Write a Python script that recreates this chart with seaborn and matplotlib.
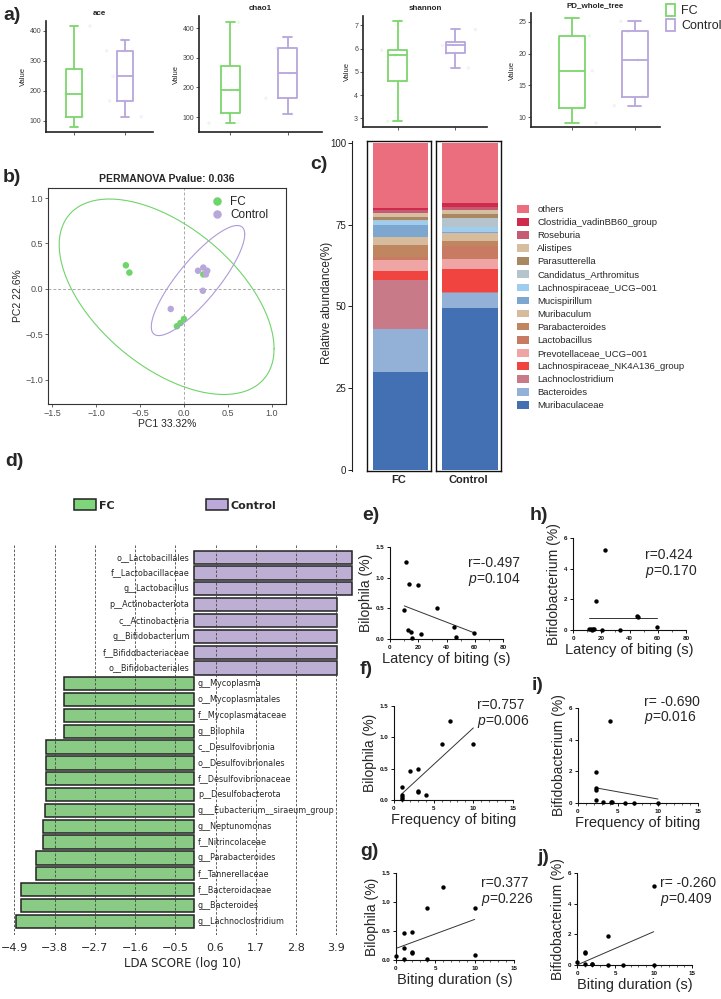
import numpy as np
import pandas as pd
import matplotlib
matplotlib.use('Agg')
import matplotlib.pyplot as plt
from matplotlib.patches import Patch
from matplotlib.ticker import MultipleLocator
import seaborn as sns

sns.set_style('white')
plt.rcParams['font.family'] = ['Liberation Sans', 'DejaVu Sans']
plt.rcParams['mathtext.fontset'] = 'custom'
plt.rcParams['mathtext.it'] = 'Liberation Sans:italic'
plt.rcParams['mathtext.rm'] = 'Liberation Sans'

W, H = 721, 999
GREEN = '#7bd66c'
PURPLE = '#b7a6dd'
GREEN_D = '#7fd67a'
PURPLE_D = '#bba9d9'

# ---------------- data ----------------
# a) alpha diversity: min, q1, median, q3, max
alpha_names = ['ace', 'chao1', 'shannon', 'PD_whole_tree']
ace_fc = [80, 114, 190, 272, 415]
ace_ctrl = [114, 166, 248, 333, 369]
chao1_fc = [80, 113, 192, 272, 420]
chao1_ctrl = [111, 164, 248, 333, 370]
shannon_fc = [2.88, 4.6, 5.71, 5.93, 7.2]
shannon_ctrl = [5.17, 5.79, 6.14, 6.27, 6.82]
pdtree_fc = [9.1, 11.4, 17.3, 22.8, 25.6]
pdtree_ctrl = [11.8, 13.25, 19.0, 23.5, 25.1]

# b) PCoA
pc_fc_x = [-0.66, -0.62, 0.22, -0.08, -0.04, 0.00]
pc_fc_y = [0.26, 0.18, 0.16, -0.41, -0.375, -0.33]
pc_ctrl_x = [0.16, 0.22, 0.265, 0.25, 0.215, -0.15]
pc_ctrl_y = [0.20, 0.235, 0.20, 0.16, -0.02, -0.22]
F_95 = 5.786  # F quantile (0.95; 2, 5) used by stat_ellipse, n = 6

# c) relative abundance (bottom -> top)
genera = ['Muribaculaceae', 'Bacteroides', 'Lachnoclostridium',
          'Lachnospiraceae_NK4A136_group', 'Prevotellaceae_UCG\u2212001',
          'Lactobacillus', 'Parabacteroides', 'Muribaculum', 'Mucispirillum',
          'Lachnospiraceae_UCG\u2212001', 'Candidatus_Arthromitus',
          'Parasutterella', 'Alistipes', 'Roseburia',
          'Clostridia_vadinBB60_group', 'others']
abund_fc = [30.0, 13.1, 15.0, 2.9, 3.2, 0.8, 3.8, 2.5, 3.7, 1.0, 0.3,
            1.0, 1.2, 1.0, 0.6, 19.9]
abund_ctrl = [49.4, 4.6, 0.3, 7.1, 3.0, 4.2, 1.4, 2.4, 0.3, 1.7, 2.8,
              1.1, 1.2, 0.8, 1.2, 18.5]
genus_colors = ['#4270b2', '#93b0d6', '#c97a89', '#ef4440', '#f0a5a5',
                '#c97a62', '#bf8660', '#d6bc9c', '#7ea7cf', '#9fcdef',
                '#b4c3cc', '#a98762', '#d7bea0', '#c45b72', '#cf2a4b',
                '#eb6e7e']

# d) LEfSe
lda_taxa = ['o__Lactobacillales', 'f__Lactobacillaceae', 'g__Lactobacillus',
            'p__Actinobacteriota', 'c__Actinobacteria', 'g__Bifidobacterium',
            'f__Bifidobacteriaceae', 'o__Bifidobacteriales', 'g__Mycoplasma',
            'o__Mycoplasmatales', 'f__Mycoplasmataceae', 'g__Bilophila',
            'c__Desulfovibrionia', 'o__Desulfovibrionales',
            'f__Desulfovibrionaceae', 'p__Desulfobacterota',
            'g___Eubacterium__siraeum_group', 'g__Neptunomonas',
            'f__Nitrincolaceae', 'g__Parabacteroides', 'f__Tannerellaceae',
            'f__Bacteroidaceae', 'g__Bacteroides', 'g__Lachnoclostridium']
lda_score = [4.32, 4.32, 4.32, 3.93, 3.91, 3.91, 3.91, 3.91, -3.53, -3.53,
             -3.53, -3.55, -4.03, -4.03, -4.03, -4.03, -4.07, -4.11, -4.11,
             -4.31, -4.31, -4.72, -4.72, -4.85]

# e-j) correlations
e_x = [11.3, 13.7, 19.6, 10.1, 33.3, 12.8, 45.5, 14.6, 21.7, 15.4, 46.5, 59.7]
e_y = [1.25, 0.89, 0.88, 0.47, 0.50, 0.14, 0.20, 0.11, 0.08, 0.01, 0.03, 0.09]
e_fit = ([10.1, 59.7], [0.54, 0.10])
h_x = [22.5, 16.1, 11.1, 12.4, 13.2, 14.0, 15.2, 20.6, 33.1, 45.0, 46.1, 59.2]
h_y = [5.19, 1.92, 0.05, 0.05, 0.02, 0.05, 0.05, 0.0, 0.0, 0.94, 0.83, 0.22]
h_fit = ([11.1, 59.2], [0.80, 0.80])
f_x = [1, 1, 1, 1, 2, 3, 3, 3, 4, 6, 7, 10]
f_y = [0.20, 0.08, 0.05, 0.01, 0.47, 0.49, 0.14, 0.12, 0.08, 0.89, 1.26, 0.89]
f_fit = ([1, 10], [0.10, 1.15])
i_x = [2.2, 2.2, 2.2, 2.2, 3.1, 4.0, 4.1, 4.2, 5.9, 7.0, 10.0]
i_y = [1.93, 0.93, 0.82, 0.19, 0.08, 5.2, 0.08, 0.08, 0.02, 0.02, 0.02]
i_fit = ([2.2, 10.0], [0.96, 0.25])
g_x = [1, 2, 1, 1, 2, 2, 4, 4, 6, 10, 10, 0]
g_y = [0.47, 0.49, 0.20, 0.01, 0.14, 0.12, 0.89, 0.02, 1.26, 0.89, 0.08, 0.07]
g_fit = ([0, 10], [0.20, 0.70])
j_x = [0, 1, 1, 1, 2, 2, 4, 4, 6, 10, 10]
j_y = [0.22, 0.87, 0.80, 0.07, 0.07, 0.05, 1.91, 0.0, 0.0, 0.0, 5.15]
j_fit = ([0, 10], [0.0, 2.17])

fig = plt.figure(figsize=(W / 100, H / 100), dpi=100)


def add_ax(l, t, r, b, **kw):
    return fig.add_axes([l / W, 1 - b / H, (r - l) / W, (b - t) / H], **kw)


def label(x, y, s):
    fig.text(x / W, 1 - y / H, s, fontsize=14, fontweight='bold', va='center')


# ---------------- a) ----------------
np.random.seed(3)
a_data = [(ace_fc, ace_ctrl), (chao1_fc, chao1_ctrl),
          (shannon_fc, shannon_ctrl), (pdtree_fc, pdtree_ctrl)]
a_boxes = [(46, 21, 153, 132), (199, 16, 322, 132), (363, 16, 487, 127),
           (531, 13, 660, 127)]
a_ylims = [(63, 432), (50, 441), (2.63, 7.4), (8.47, 26.4)]
a_ticks = [[100, 200, 300, 400], [100, 200, 300, 400], [3, 4, 5, 6, 7],
           [10, 15, 20, 25]]
a_xlims = [(-0.55, 1.55), (-0.55, 1.6), (-0.6, 1.55), (-0.65, 1.4)]
a_width = [0.3, 0.33, 0.32, 0.42]
for k, name in enumerate(alpha_names):
    fc, ctrl = a_data[k]
    df = pd.DataFrame({'group': ['FC'] * len(fc) + ['Control'] * len(ctrl),
                       'value': fc + ctrl})
    ax = add_ax(*a_boxes[k])
    pal = {'FC': GREEN, 'Control': PURPLE}
    sns.stripplot(data=df, x='group', y='value', hue='group', palette=pal,
                  alpha=0.15, size=2.5, jitter=0.4, legend=False, ax=ax)
    sns.boxplot(data=df, x='group', y='value', hue='group', palette=pal,
                fill=False, width=a_width[k], whis=(0, 100), linewidth=1.3,
                legend=False, ax=ax)
    ax.set_xlim(*a_xlims[k])
    ax.set_ylim(*a_ylims[k])
    ax.set_yticks(a_ticks[k])
    ax.set_xticklabels([])
    ax.set_xlabel('')
    ax.set_ylabel('Value', fontsize=5.5, labelpad=2)
    ax.set_title(name, fontsize=5.8, fontweight='bold', pad=4)
    ax.tick_params(axis='both', labelsize=5, colors='#444', length=2,
                   width=0.6, pad=1.5, left=True, bottom=True)
    for s in ['top', 'right']:
        ax.spines[s].set_visible(False)
    for s in ['left', 'bottom']:
        ax.spines[s].set_color('#222')
        ax.spines[s].set_linewidth(1.2)

fig.legend(handles=[Patch(facecolor='white', edgecolor=GREEN, lw=1.3, label='FC'),
                    Patch(facecolor='white', edgecolor=PURPLE, lw=1.3, label='Control')],
           loc='upper left', bbox_to_anchor=(666 / W, 1 - 4 / H), frameon=False,
           fontsize=9, handlelength=0.75, handleheight=1.1, handletextpad=0.45,
           labelspacing=0.15, borderpad=0, borderaxespad=0)

# ---------------- b) ----------------
axb = add_ax(48, 188, 286, 404)
pc_df = pd.DataFrame({'PC1': pc_fc_x + pc_ctrl_x, 'PC2': pc_fc_y + pc_ctrl_y,
                      'group': ['FC'] * len(pc_fc_x) + ['Control'] * len(pc_ctrl_x)})
axb.axhline(0, color='#aaa', lw=0.7, ls=(0, (3, 2)), zorder=0)
axb.axvline(0, color='#aaa', lw=0.7, ls=(0, (3, 2)), zorder=0)
sns.scatterplot(data=pc_df, x='PC1', y='PC2', hue='group',
                palette={'FC': '#6fd46a', 'Control': '#b9a7dc'}, s=22,
                linewidth=0, ax=axb)
theta = np.linspace(0, 2 * np.pi, 200)
for grp, col in [('FC', '#6fd46a'), ('Control', '#ad9bd8')]:
    pts = pc_df.loc[pc_df['group'] == grp, ['PC1', 'PC2']].to_numpy()
    cov = np.cov(pts.T)
    chol = np.linalg.cholesky(cov)
    circ = np.vstack([np.cos(theta), np.sin(theta)]) * np.sqrt(2 * F_95)
    ell = (chol @ circ).T + pts.mean(axis=0)
    axb.plot(ell[:, 0], ell[:, 1], color=col, lw=0.8)
axb.set_xlim(-1.545, 1.16)
axb.set_ylim(-1.265, 1.11)
axb.set_xticks([-1.5, -1.0, -0.5, 0.0, 0.5, 1.0])
axb.set_yticks([-1.0, -0.5, 0.0, 0.5, 1.0])
axb.tick_params(labelsize=6.5, colors='#4d4d4d', length=2, width=0.6, pad=1.5,
                left=True, bottom=True)
axb.set_xlabel('PC1 33.32%', fontsize=7.5, labelpad=1)
axb.set_ylabel('PC2 22.6%', fontsize=7.5, labelpad=2)
axb.set_title('PERMANOVA Pvalue: 0.036', fontsize=7.5, fontweight='bold', pad=4)
for s in axb.spines.values():
    s.set_color('#333')
    s.set_linewidth(0.8)
axb.legend(loc='upper right', bbox_to_anchor=(0.96, 1.0), frameon=False,
           fontsize=8.5, title=None, handletextpad=0.1, labelspacing=0.1,
           markerscale=1.3, borderpad=0.2)

# ---------------- c) ----------------
axc_y = add_ax(352, 141, 501, 471)
axc_y.set_ylim(-0.3, 100.6)
axc_y.set_yticks([0, 25, 50, 75, 100])
axc_y.set_xticks([])
axc_y.tick_params(axis='y', labelsize=7, length=3, width=0.7, pad=1,
                  left=True, colors='#222')
for s in ['top', 'right', 'bottom']:
    axc_y.spines[s].set_visible(False)
axc_y.spines['left'].set_color('#222')
axc_y.spines['left'].set_linewidth(0.8)
axc_y.patch.set_alpha(0)
fig.text(327 / W, 1 - 303 / H, 'Relative abundance(%)', fontsize=8.5,
         rotation=90, ha='center', va='center')

for (l, r, vals, name) in [(367, 431, abund_fc, 'FC'), (436, 501, abund_ctrl, 'Control')]:
    ax = add_ax(l, 141, r, 471)
    bottom = 0.0
    for v, col in zip(vals, genus_colors):
        ax.bar([0.03], [v], bottom=bottom, width=0.86, color=col, linewidth=0)
        bottom += v
    ax.set_xlim(-0.5, 0.5)
    ax.set_ylim(-0.3, 100.6)
    ax.set_yticks([])
    ax.set_xticks([0])
    ax.set_xticklabels([name], fontsize=8, fontweight='bold')
    ax.tick_params(axis='x', length=0, pad=3)
    for s in ax.spines.values():
        s.set_color('#111')
        s.set_linewidth(1.0)

c_handles = [Patch(facecolor=c, edgecolor='none', label=g)
             for g, c in zip(genera[::-1], genus_colors[::-1])]
fig.legend(handles=c_handles, loc='upper left', bbox_to_anchor=(517 / W, 1 - 205 / H),
           frameon=False, fontsize=6.8, handlelength=1.3, handleheight=0.85,
           handletextpad=0.85, labelspacing=0.43, borderpad=0, borderaxespad=0)

# ---------------- d) ----------------
axd = add_ax(10.6, 545, 354.6, 935)
lda_df = pd.DataFrame({'taxon': lda_taxa, 'score': lda_score})
lda_df['group'] = np.where(lda_df['score'] > 0, 'Control', 'FC')
sns.barplot(data=lda_df, x='score', y='taxon', hue='group',
            palette={'FC': GREEN_D, 'Control': PURPLE_D}, dodge=False,
            orient='h', width=0.84, edgecolor='#222', linewidth=1.1,
            legend=False, ax=axd)
for i, (name, v) in enumerate(zip(lda_taxa, lda_score)):
    if v > 0:
        axd.text(-0.11, i, name, ha='right', va='center', fontsize=5.8,
                 family='DejaVu Sans')
    else:
        axd.text(0.12, i, name, ha='left', va='center', fontsize=5.8,
                 family='DejaVu Sans')
axd.set_xlim(-5.0, 4.4)
axd.set_ylim(len(lda_taxa) - 0.13, -0.77)
axd.set_xticks(np.round(np.arange(-4.9, 4.0, 1.1), 1))
axd.set_yticks([])
axd.set_ylabel('')
axd.grid(axis='x', color='#444', lw=0.6, ls=(0, (3, 2)))
axd.set_axisbelow(False)
for s in axd.spines.values():
    s.set_visible(False)
axd.tick_params(axis='x', length=0, labelsize=8, pad=6)
for t in axd.get_xticklabels():
    t.set_family('DejaVu Sans')
axd.set_xlabel('LDA SCORE (log 10)', fontsize=8.5, family='DejaVu Sans', labelpad=3)

fig.legend(handles=[Patch(facecolor=GREEN_D, edgecolor='#222', lw=1.1, label='FC'),
                    Patch(facecolor=PURPLE_D, edgecolor='#222', lw=1.1, label='Control')],
           loc='center left', bbox_to_anchor=(74 / W, 1 - 505 / H), ncol=2,
           frameon=False, prop={'size': 8, 'weight': 'bold', 'family': 'DejaVu Sans'},
           handlelength=2.0, handleheight=1.1, handletextpad=0.25,
           columnspacing=8.2, borderpad=0, borderaxespad=0)

# ---------------- e-j) ----------------
scatter_specs = [
    ('e', (390, 547, 503, 639), e_x, e_y, e_fit, (0, 80), [0, 20, 40, 60, 80], 10,
     (0, 1.5), [0, 0.5, 1.0, 1.5], 'Bilophila (%)', 'Latency of biting (s)',
     '0.0', 'r=-0.497', '0.104', (468, 563)),
    ('h', (573, 538, 686, 630), h_x, h_y, h_fit, (0, 80), [0, 20, 40, 60, 80], 10,
     (0, 6), [0, 2, 4, 6], 'Bifidobacterium (%)', 'Latency of biting (s)',
     '0', 'r=0.424', '0.170', (645, 555)),
    ('f', (394, 706, 513, 800), f_x, f_y, f_fit, (0, 15), [0, 5, 10, 15], 1,
     (0, 1.5), [0, 0.5, 1.0, 1.5], 'Bilophila (%)', 'Frequency of biting',
     '0.0', 'r=0.757', '0.006', (477, 705)),
    ('i', (578, 708, 698, 803), i_x, i_y, i_fit, (0, 15), [0, 5, 10, 15], 1,
     (0, 6), [0, 2, 4, 6], 'Bifidobacterium (%)', 'Frequency of biting',
     '0', 'r= -0.690', '0.016', (644, 702)),
    ('g', (396, 873, 514, 960), g_x, g_y, g_fit, (0, 15), [0, 5, 10, 15], 1,
     (0, 1.5), [0, 0.5, 1.0, 1.5], 'Bilophila (%)', 'Biting duration (s)',
     '0.0', 'r=0.377', '0.226', (481, 883)),
    ('j', (577, 873, 692, 965), j_x, j_y, j_fit, (0, 15), [0, 5, 10, 15], 1,
     (0, 6), [0, 2, 4, 6], 'Bifidobacterium (%)', 'Biting duration (s)',
     '0', 'r= -0.260', '0.409', (660, 883)),
]
for (tag, box, xs, ys, fit, xlim, xt, xminor, ylim, yt, ylab, xlab, yfmt,
     rtxt, ptxt, tpos) in scatter_specs:
    ax = add_ax(*box)
    sns.scatterplot(x=xs, y=ys, color='black', s=10, linewidth=0,
                    clip_on=False, zorder=3, ax=ax)
    sns.lineplot(x=fit[0], y=fit[1], color='#333', lw=0.7, ax=ax)
    ax.set_xlim(*xlim)
    ax.set_ylim(*ylim)
    ax.set_xticks(xt)
    ax.set_yticks(yt)
    ax.xaxis.set_minor_locator(MultipleLocator(xminor))
    if yfmt == '0.0':
        ax.set_yticklabels(['%.1f' % v for v in yt])
    ax.tick_params(which='major', labelsize=4.5, length=2.5, width=0.7, pad=1.5,
                   left=True, bottom=True, colors='#111')
    ax.tick_params(which='minor', length=1.3, width=0.5, bottom=True)
    for t in ax.get_xticklabels() + ax.get_yticklabels():
        t.set_fontweight('bold')
    for s in ['top', 'right']:
        ax.spines[s].set_visible(False)
    for s in ['left', 'bottom']:
        ax.spines[s].set_color('#111')
        ax.spines[s].set_linewidth(0.8)
    ax.set_ylabel(ylab, fontsize=10, labelpad=2)
    ax.set_xlabel(xlab, fontsize=10.5, labelpad=2)
    fig.text(tpos[0] / W, 1 - tpos[1] / H, rtxt, fontsize=10, va='center')
    fig.text(tpos[0] / W, 1 - (tpos[1] + 16) / H, '$p$=' + ptxt, fontsize=10,
             va='center')

# panel tags
for s, x, y in [('a)', 3, 16), ('b)', 3, 178), ('c)', 310, 165), ('d)', 5, 462),
                ('e)', 362, 515), ('h)', 530, 515), ('f)', 360, 669),
                ('i)', 532, 686), ('g)', 360, 852), ('j)', 537, 858)]:
    label(x, y, s)

fig.savefig('out.png', dpi=100)
